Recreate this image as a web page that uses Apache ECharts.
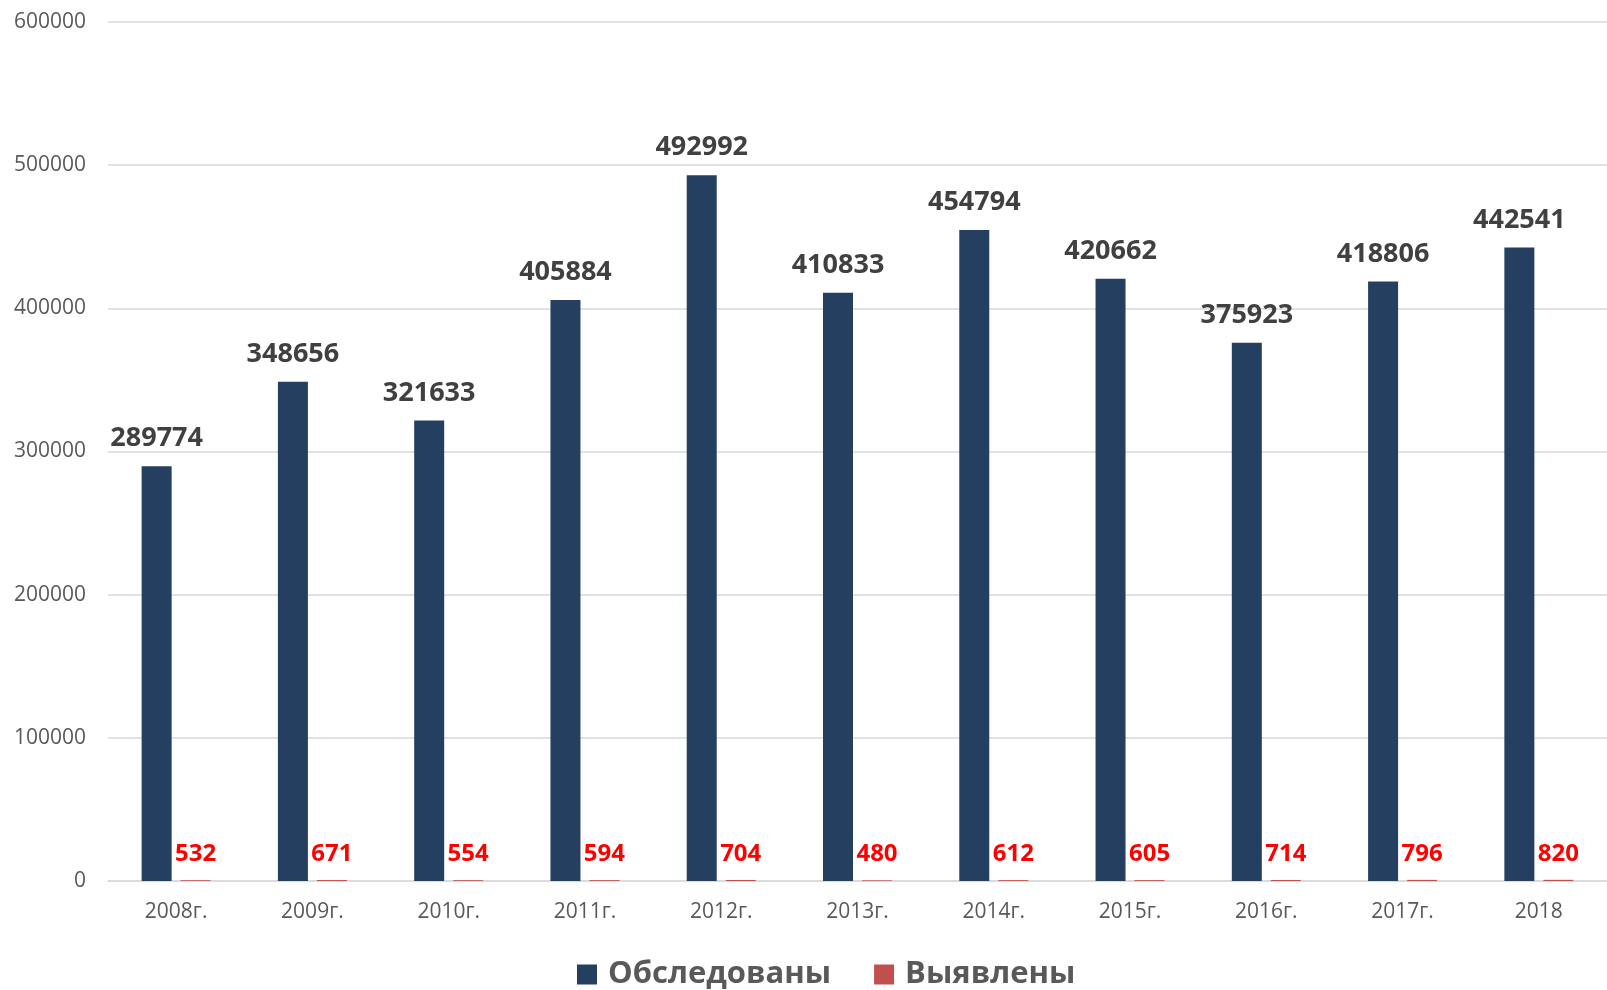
<!DOCTYPE html>
<html>
<head>
<meta charset="utf-8">
<script src="https://cdn.jsdelivr.net/npm/echarts@6/dist/echarts.min.js"></script>
<style>
  html, body { margin: 0; padding: 0; background: #fff; }
  #chart { width: 1607px; height: 990px; }
</style>
</head>
<body>
<div id="chart"></div>
<script>
// Years on the category axis
const years = ['2008г.', '2009г.', '2010г.', '2011г.', '2012г.', '2013г.', '2014г.', '2015г.', '2016г.', '2017г.', '2018'];
// Number examined per year
const examined = [289774, 348656, 321633, 405884, 492992, 410833, 454794, 420662, 375923, 418806, 442541];
// Number detected per year
const detected = [532, 671, 554, 594, 704, 480, 612, 605, 714, 796, 820];
const seriesNames = ['Обследованы', 'Выявлены'];

const chart = echarts.init(document.getElementById('chart'), null, { renderer: 'canvas' });
const font = '"Open Sans", "Noto Sans", sans-serif';

chart.setOption({
  animation: false,
  textStyle: { fontFamily: font },
  grid: { left: 108, right: 0, top: 22, bottom: 109, containLabel: false },
  legend: {
    top: 954,
    left: 572,
    itemWidth: 20,
    itemHeight: 20,
    itemGap: 43,
    icon: 'rect',
    textStyle: { fontFamily: font, fontSize: 31, fontWeight: 'bold', color: '#595959', padding: [0, 0, 0, 6] },
    data: seriesNames
  },
  xAxis: {
    type: 'category',
    data: years,
    axisLine: { lineStyle: { color: '#D9D9D9', width: 1.5 } },
    axisTick: { show: false },
    axisLabel: { fontSize: 21, color: '#595959', margin: 21, fontFamily: font }
  },
  yAxis: {
    type: 'value',
    min: 0,
    max: 600000,
    interval: 100000,
    axisLine: { show: false },
    axisTick: { show: false },
    splitLine: { lineStyle: { color: '#D9D9D9', width: 1.5 } },
    axisLabel: { fontSize: 21, color: '#595959', margin: 22, fontFamily: font, formatter: (v) => String(v) }
  },
  series: [
    {
      name: seriesNames[0],
      type: 'bar',
      data: examined,
      barWidth: 30,
      barGap: '30%',
      itemStyle: { color: '#243F60' },
      label: {
        show: true,
        position: 'top',
        distance: 14,
        fontSize: 27,
        fontWeight: 'bold',
        color: '#404040',
        fontFamily: font
      }
    },
    {
      name: seriesNames[1],
      type: 'bar',
      data: detected,
      barWidth: 30,
      itemStyle: { color: '#C0504D' },
      label: {
        show: true,
        position: 'top',
        distance: 14,
        fontSize: 24,
        fontWeight: 'bold',
        color: '#FF0000',
        fontFamily: font
      }
    }
  ]
});
</script>
</body>
</html>
